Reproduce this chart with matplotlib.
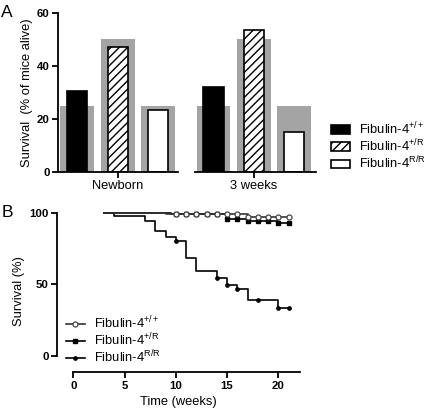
import matplotlib
matplotlib.use("Agg")
import matplotlib.pyplot as plt
import numpy as np
from matplotlib.lines import Line2D

plt.rcParams['font.family'] = ['Liberation Sans', 'DejaVu Sans']
plt.rcParams['mathtext.fontset'] = 'custom'
plt.rcParams['mathtext.rm'] = 'Liberation Sans'
plt.rcParams['mathtext.it'] = 'Liberation Sans:italic'
plt.rcParams['mathtext.bf'] = 'Liberation Sans:bold'
plt.rcParams['mathtext.default'] = 'regular'
plt.rcParams['hatch.linewidth'] = 1.0

# ---------------- data ----------------
genotypes = ['Fibulin-4$^{+/+}$', 'Fibulin-4$^{+/R}$', 'Fibulin-4$^{R/R}$']
groups = ['Newborn', '3 weeks']
expected = [25, 50, 25]                 # Mendelian expectation (grey bars)
observed_newborn = [30.5, 47, 23.5]
observed_3weeks = [32, 53.5, 15]
a_yticks = [0, 20, 40, 60]

# Kaplan-Meier steps (time in weeks, survival %)
wt_t = [3, 9, 17, 21]
wt_s = [100, 99.3, 96.8, 96.8]
wt_mark_t = [10, 11, 12, 13, 14, 15, 16, 17, 18, 19, 20, 21]
wt_mark_s = [99.3, 99.3, 99.3, 99.3, 99.3, 99.3, 99.3, 96.8, 96.8, 96.8, 96.8, 96.8]

het_t = [3, 9.5, 15, 17, 20, 21]
het_s = [100, 99.0, 95.9, 94.4, 92.8, 92.8]
het_mark_t = [10, 11, 12, 13, 14, 15, 16, 17, 18, 19, 20, 21]
het_mark_s = [99.0, 99.0, 99.0, 99.0, 99.0, 95.9, 95.9, 94.4, 94.4, 94.4, 92.8, 92.8]

rr_t = [3, 4, 7, 8, 9, 10, 11, 12, 14, 15, 16, 17, 20, 21]
rr_s = [100, 97.6, 94.4, 87, 82.7, 80.6, 68.2, 59.4, 54.6, 49.6, 46.6, 39.4, 33.8, 33.8]
rr_mark_t = [10, 14, 15, 16, 18, 20, 21]
rr_mark_s = [80.6, 54.6, 49.6, 46.6, 39.4, 33.8, 33.8]

b_xticks = [0, 5, 10, 15, 20]
b_yticks = [0, 50, 100]

# ---------------- figure ----------------
W, H = 430, 412
fig = plt.figure(figsize=(W / 100, H / 100), dpi=100)

def px_axes(l, t, r, b):
    return fig.add_axes([l / W, 1 - b / H, (r - l) / W, (b - t) / H])

GREY = '#a4a4a4'
LW = 1.3
TICKFS = 8.2
LABFS = 9.3

axA1 = px_axes(58, 12.7, 178, 172)
axA2 = px_axes(195, 12.7, 316, 172)
fills = ['black', 'white', 'white']
hatches = [None, '////', None]
handles = []
for ax, obs, grp, xl in [(axA1, observed_newborn, groups[0], (-0.48, 2.5)),
                        (axA2, observed_3weeks, groups[1], (-0.46, 2.54))]:
    x = np.arange(3)
    ax.bar(x, expected, width=0.84, color=GREY, linewidth=0, zorder=1)
    hs = []
    for i in range(3):
        b = ax.bar(x[i], obs[i], width=0.5, color=fills[i], edgecolor='black',
                   linewidth=1.2, hatch=hatches[i], zorder=2, label=genotypes[i])
        hs.append(b)
    handles = hs
    ax.set_xlim(*xl)
    ax.set_ylim(0, 60)
    ax.set_xticks([1])
    ax.set_xticklabels([grp], fontsize=LABFS)
    for s in ['top', 'right']:
        ax.spines[s].set_visible(False)
    ax.spines['bottom'].set_linewidth(LW)
    ax.spines['left'].set_linewidth(LW)
    ax.tick_params(axis='both', width=LW, length=4, pad=2)
    ax.set_facecolor('none')

axA1.set_yticks(a_yticks)
axA1.set_yticklabels([str(v) for v in a_yticks], fontsize=TICKFS, fontweight='bold')
axA1.set_ylabel('Survival  (% of mice alive)', fontsize=LABFS, labelpad=3)
axA2.spines['left'].set_visible(False)
axA2.set_yticks([])

fig.legend(handles=handles, labels=genotypes, loc='center left',
           bbox_to_anchor=(331 / W, 1 - 146 / H), frameon=False, fontsize=LABFS,
           handlelength=1.45, handleheight=0.65, handletextpad=0.7,
           labelspacing=0.05, borderpad=0, borderaxespad=0)

# ---------------- panel B ----------------
x0, xs = 73.3, 10.25
y0, ys = 356.0, 1.433
xl = ((57 - x0) / xs, (300 - x0) / xs)
yl = (-(372.3 - y0) / ys, 102)
axB = px_axes(57, y0 - yl[1] * ys, 300, 372.3)
axB.set_xlim(*xl)
axB.set_ylim(*yl)

axB.step(wt_t, wt_s, where='post', color='#333333', lw=1.2, zorder=3)
axB.step(het_t, het_s, where='post', color='black', lw=1.2, zorder=2)
axB.step(rr_t, rr_s, where='post', color='black', lw=1.2, zorder=2)
axB.plot(het_mark_t, het_mark_s, ls='none', marker='s', ms=2.6, color='black', zorder=4, clip_on=False)
axB.plot(wt_mark_t, wt_mark_s, ls='none', marker='o', ms=3.6, mfc='white', mec='#444444', mew=0.9, zorder=5, clip_on=False)
axB.plot(rr_mark_t, rr_mark_s, ls='none', marker='o', ms=2.4, color='black', zorder=4, clip_on=False)

lh = [Line2D([], [], color='#333333', lw=1.2, marker='o', ms=3.6, mfc='white', mec='#444444', mew=0.9),
      Line2D([], [], color='black', lw=1.2, marker='s', ms=2.6),
      Line2D([], [], color='black', lw=1.2, marker='o', ms=2.4)]
axB.legend(handles=lh, labels=genotypes, loc='center left',
           bbox_to_anchor=(66 / W, 1 - 340 / H), bbox_transform=fig.transFigure,
           frameon=False, fontsize=LABFS, handlelength=1.45, handletextpad=0.7,
           labelspacing=0.05, borderpad=0, borderaxespad=0)

for s in ['top', 'right']:
    axB.spines[s].set_visible(False)
axB.spines['left'].set_bounds(0, 100)
axB.spines['bottom'].set_bounds(0, xl[1])
axB.spines['left'].set_linewidth(LW)
axB.spines['bottom'].set_linewidth(LW)
axB.set_xticks(b_xticks)
axB.set_xticklabels([str(v) for v in b_xticks], fontsize=TICKFS, fontweight='bold')
axB.set_yticks(b_yticks)
axB.set_yticklabels([str(v) for v in b_yticks], fontsize=TICKFS, fontweight='bold')
axB.tick_params(axis='both', width=LW, length=4, pad=2)
axB.set_xlabel('Time (weeks)', fontsize=LABFS, labelpad=4)
axB.set_ylabel('Survival (%)', fontsize=LABFS, labelpad=3)
axB.set_facecolor('none')

fig.text(1 / W, 1 - 17 / H, 'A', fontsize=12.5, va='baseline', ha='left')
fig.text(2 / W, 1 - 217 / H, 'B', fontsize=12.5, va='baseline', ha='left')

fig.savefig('out.png', dpi=100)
